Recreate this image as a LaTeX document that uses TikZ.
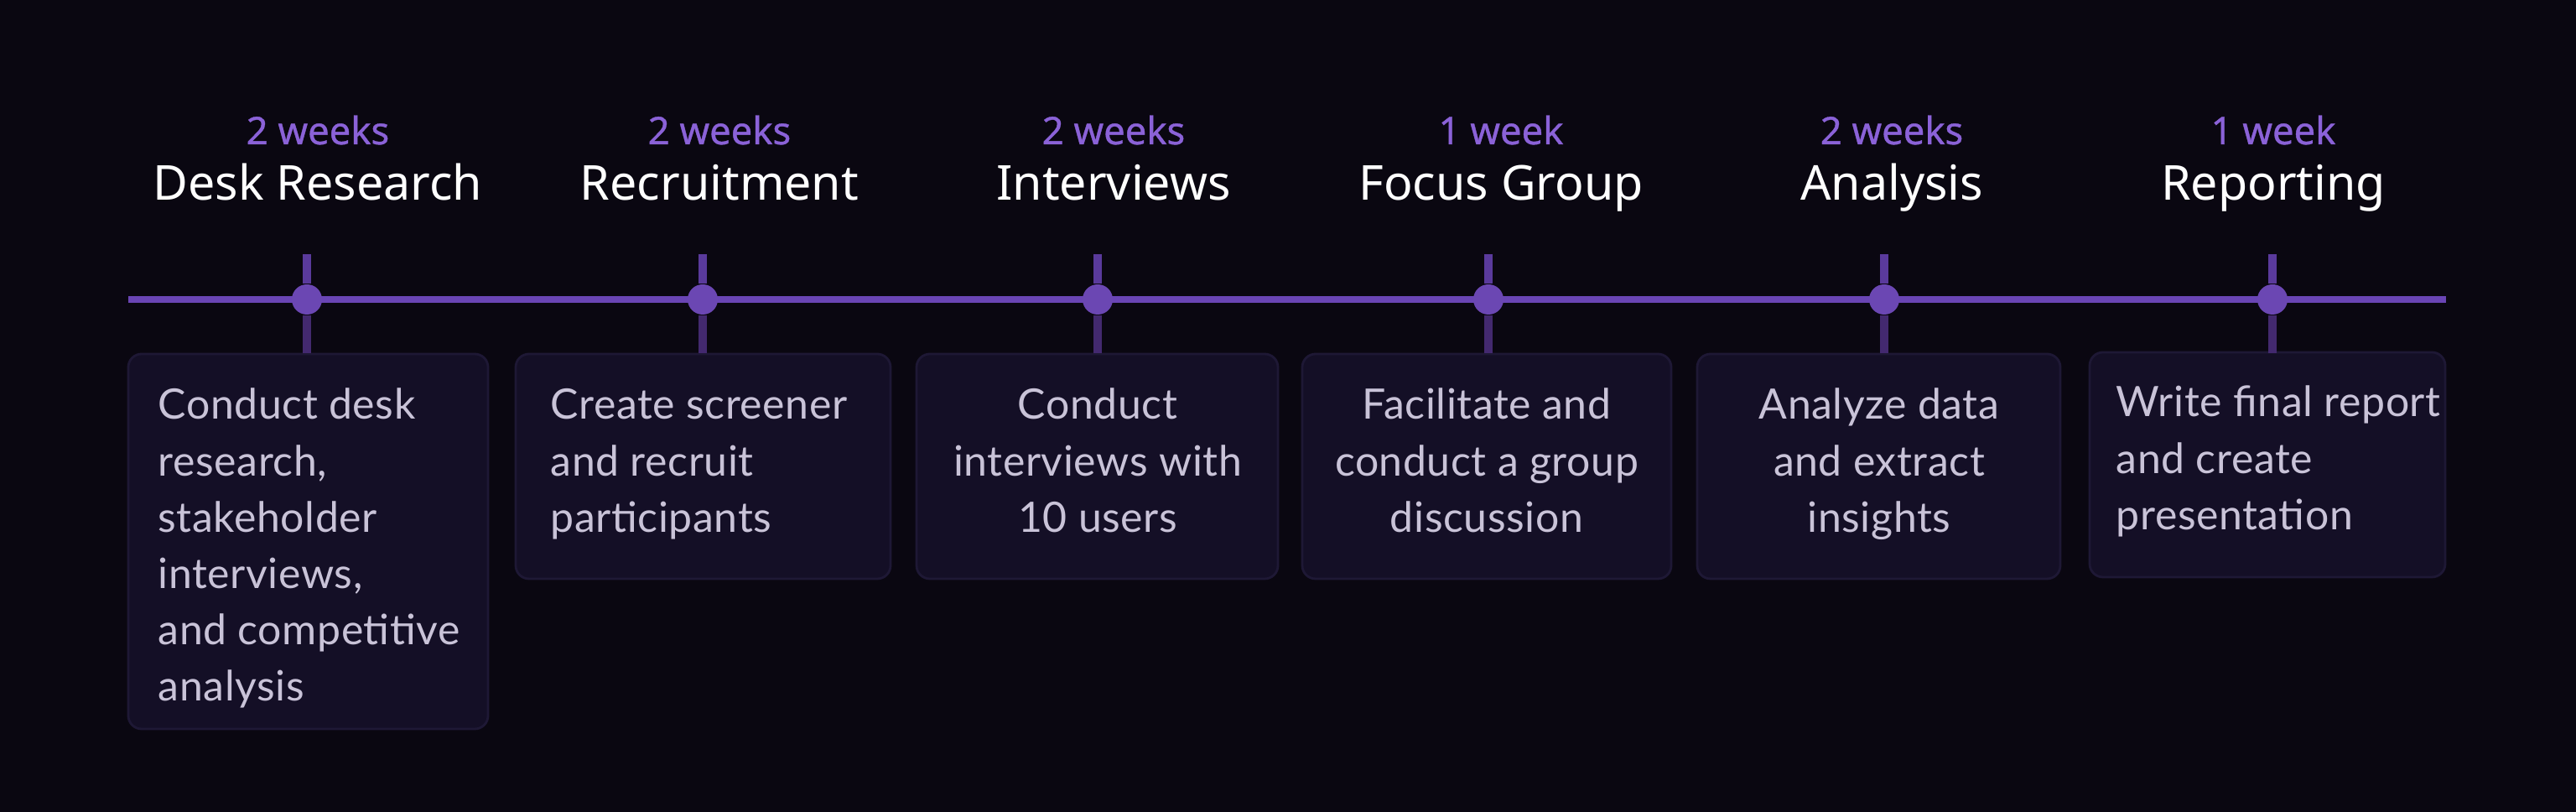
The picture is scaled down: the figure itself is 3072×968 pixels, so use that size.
\documentclass[tikz,border=0pt]{standalone}
\usepackage{fontspec}
\setmainfont{Lato}
\newfontfamily\titlefont{Noto Sans}
\newfontfamily\wkfont[FakeBold=0.8]{Noto Sans}
\newfontfamily\bodyfont[LetterSpace=1.2]{Lato}
\definecolor{bg}{HTML}{0A0711}
\definecolor{boxfill}{HTML}{140F26}
\definecolor{boxline}{HTML}{1E1835}
\definecolor{tl}{HTML}{6A45B5}
\definecolor{tickup}{HTML}{5A3A9C}
\definecolor{tickdn}{HTML}{43296F}
\definecolor{dotc}{HTML}{6B47B3}
\definecolor{wkc}{HTML}{8B62D8}
\definecolor{bodyc}{HTML}{C9C3D8}
\tikzset{
  card/.style={fill=boxfill, draw=boxline, line width=0.8pt, rounded corners=4.5pt},
  weeks/.style={font=\wkfont\fontsize{12.9}{14}\selectfont, text=wkc, anchor=base, inner sep=0},
  ttl/.style={font=\titlefont\fontsize{16.3}{18}\selectfont, text=white, anchor=base, inner sep=0},
  bodyl/.style={font=\bodyfont\fontsize{14.2}{19.1}\selectfont, text=bodyc, anchor=base west, inner sep=0},
  bodyc/.style={font=\bodyfont\fontsize{14.2}{19.1}\selectfont, text=bodyc, anchor=base, inner sep=0},
  dot/.style={circle, fill=dotc, minimum size=0.36cm, inner sep=0},
  tline/.style={draw=tl, line width=2pt},
  tup/.style={draw=tickup, line width=2.6pt},
  tdn/.style={draw=tickdn, line width=2.6pt},
}
\begin{document}
\begin{tikzpicture}[x=0.01cm, y=-0.01cm]
\fill[bg] (0,0) rectangle (3072,968);
\useasboundingbox (0,0) rectangle (3072,968);
% cards
\path[card] (153,422) rectangle (582,869);
\path[card] (615,422) rectangle (1062,690);
\path[card] (1093,422) rectangle (1524,690);
\path[card] (1553,422) rectangle (1993,690);
\path[card] (2024,422) rectangle (2457,690);
\path[card] (2492,420) rectangle (2916,688);
% timeline
\coordinate (L) at (153,357);
\coordinate (R) at (2917,357);
\draw[tline] (L) -- (R);
\foreach \n/\x in {1/366, 2/838, 3/1309, 4/1775, 5/2247, 6/2710}{
  \coordinate (t\n) at (\x,303);
  \coordinate (b\n) at (\x,421);
  \node[dot] (d\n) at (\x,357) {};
  \draw[tup] (t\n) -- (d\n.north);
  \draw[tdn] (d\n.south) -- (b\n);
}
% weeks and titles
\node[weeks] (w1) at (379,172) {2 weeks};
\node[weeks] (w2) at (858,172) {2 weeks};
\node[weeks] (w3) at (1328,172) {2 weeks};
\node[weeks] (w4) at (1790,172) {1 week};
\node[weeks] (w5) at (2256,172) {2 weeks};
\node[weeks] (w6) at (2711,172) {1 week};
\node[ttl] (n1) at (379,239) {Desk Research};
\node[ttl] (n2) at (858,239) {Recruitment};
\node[ttl] (n3) at (1328,239) {Interviews};
\node[ttl] (n4) at (1790,239) {Focus Group};
\node[ttl] (n5) at (2256,239) {Analysis};
\node[ttl] (n6) at (2711,239) {Reporting};
% bodies
\node[bodyl] (c1) at (188,500) {\parbox[t]{4.6cm}{\raggedright Conduct desk\\research,\\stakeholder\\interviews,\\and competitive\\analysis}};
\node[bodyl] (c2) at (656,500) {\parbox[t]{4.6cm}{\raggedright Create screener\\and recruit\\participants}};
\node[bodyc] (c3) at (1309,500) {\parbox[t]{4.6cm}{\centering Conduct\\interviews with\\10 users}};
\node[bodyc] (c4) at (1773,500) {\parbox[t]{4.6cm}{\centering Facilitate and\\conduct a group\\discussion}};
\node[bodyc] (c5) at (2241,500) {\parbox[t]{4.6cm}{\centering Analyze data\\and extract\\insights}};
\node[bodyl] (c6) at (2523,497) {\parbox[t]{4.6cm}{\raggedright Write final report\\and create\\presentation}};
\end{tikzpicture}
\end{document}
